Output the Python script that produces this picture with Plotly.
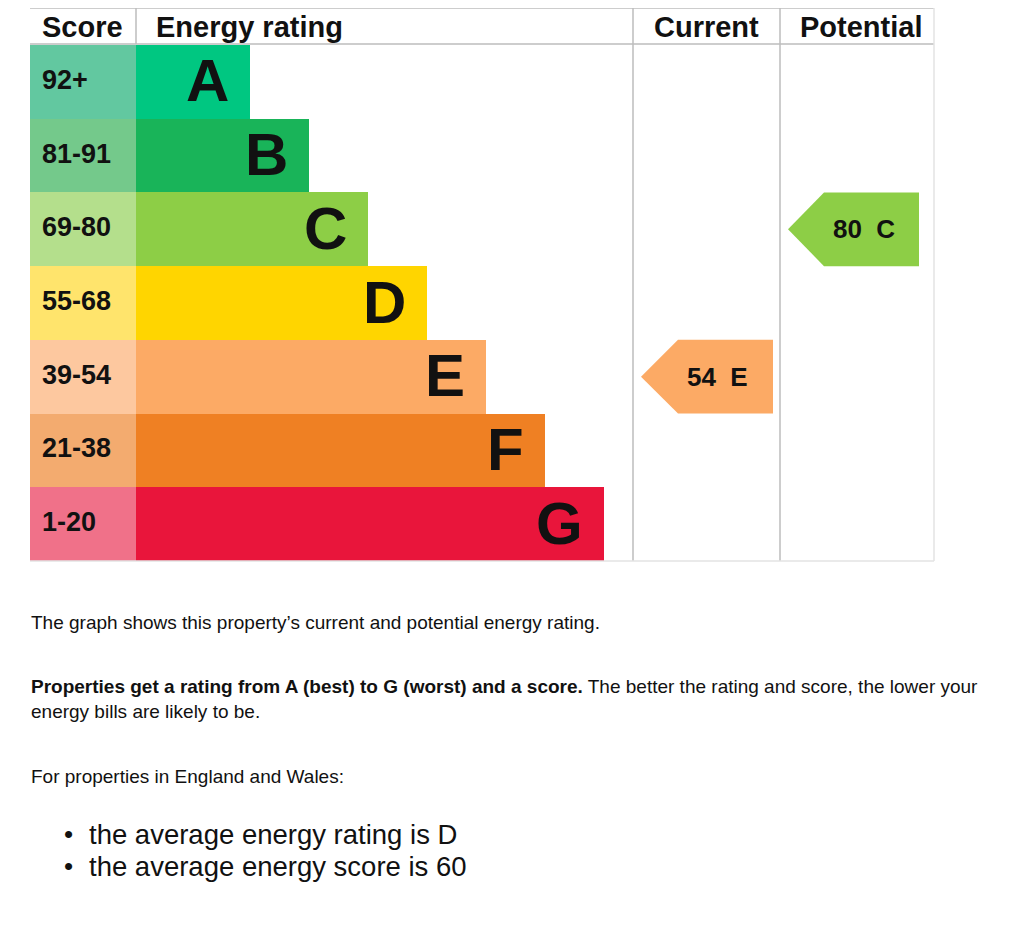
"""
Energy performance rating chart (EPC style) with current and potential score.
"""

import plotly.graph_objects as go

# data
bands = ["A", "B", "C", "D", "E", "F", "G"]
score_ranges = ["92+", "81-91", "69-80", "55-68", "39-54", "21-38", "1-20"]
band_min_score = [92, 81, 69, 55, 39, 21, 1]
bar_colors = ["#00c781", "#19b459", "#8dce46", "#ffd500", "#fcaa65", "#ef8023", "#e9153b"]
score_colors = ["#62c8a0", "#74c98b", "#b4df8c", "#ffe46c", "#fdc89f", "#f3ab6f", "#f07189"]
current_score = 54
potential_score = 80

# the page puts an 8px margin round the plot, so work in window pixels
OFF = 8
W, H = 1024 - 2 * OFF, 927 - 2 * OFF
FONT = "Liberation Sans, Arial, Helvetica, sans-serif"

# one bar step is 59px, zero of the bar axis at window x=132
STEP, ZERO = 59, 132


def px(v):
    return (v - ZERO) / STEP


def fx(v):
    return (v - OFF) / W


def fy(v):
    return 1 - (v - OFF) / H


def band_of(score):
    for i, lo in enumerate(band_min_score):
        if score >= lo:
            return i
    return len(bands) - 1


idx = list(range(len(bands)))
bar_len = [i + 2 for i in idx]  # each band one step longer than the one above

fig = go.Figure()

# score column cells
fig.add_trace(go.Bar(
    orientation="h", y=idx, x=[px(136) - px(30)] * len(idx), base=px(30),
    marker=dict(color=score_colors, line=dict(width=0)), width=1,
    hoverinfo="skip", showlegend=False,
))
# rating bars
fig.add_trace(go.Bar(
    orientation="h", y=idx, x=[L - px(136) for L in bar_len], base=px(136),
    marker=dict(color=bar_colors, line=dict(width=0)), width=1,
    hoverinfo="skip", showlegend=False,
))


def arrow(score, x_tip, x_body, x_right):
    b = band_of(score)
    xs = [x_tip, x_body, x_right, x_right, x_body, x_tip]
    ys = [b, b - 0.5, b - 0.5, b + 0.5, b + 0.5, b]
    fig.add_trace(go.Scatter(
        x=[px(v) for v in xs], y=ys, mode="lines", fill="toself",
        fillcolor=bar_colors[b], line=dict(width=0, color=bar_colors[b]),
        hoverinfo="skip", showlegend=False,
    ))
    fig.add_annotation(
        x=px((x_body + x_right) / 2 - 8), y=b, xref="x", yref="y",
        text=f"<b>{score}  {bands[b]}</b>", showarrow=False,
        font=dict(family=FONT, size=26, color="#111"),
    )


arrow(current_score, 641, 678, 773)
arrow(potential_score, 788, 824, 919)

# band letters and score ranges
for i in idx:
    fig.add_annotation(
        x=bar_len[i], y=i, xref="x", yref="y", xanchor="right",
        xshift=-19, yshift=1, text=f"<b>{bands[i]}</b>", showarrow=False,
        font=dict(family=FONT, size=60, color="#111"),
    )
    fig.add_annotation(
        x=px(40), y=i, xref="x", yref="y", xanchor="left", yshift=2,
        text=f"<b>{score_ranges[i]}</b>", showarrow=False,
        font=dict(family=FONT, size=27, color="#111"),
    )

# header
headers = [("Score", 40, "left"), ("Energy rating", 154, "left"),
           ("Current", 706, "center"), ("Potential", 861, "center")]
for txt, x, anc in headers:
    fig.add_annotation(
        x=fx(x), y=fy(27), xref="paper", yref="paper", xanchor=anc,
        yanchor="middle", text=f"<b>{txt}</b>", showarrow=False,
        font=dict(family=FONT, size=29, color="#111"),
    )

# grid lines
grey = "#bdbdbd"
light = "#e3e3e3"
lines = [
    (30, 8, 934, 8, grey), (30, 44, 934, 44, grey),
    (136, 8, 136, 44, grey), (633, 8, 633, 561, grey),
    (780, 8, 780, 561, grey), (934, 8, 934, 561, light),
    (30, 561, 934, 561, light),
]
for x0, y0, x1, y1, c in lines:
    fig.add_shape(type="line", xref="paper", yref="paper",
                  x0=fx(x0), y0=fy(y0), x1=fx(x1), y1=fy(y1),
                  line=dict(color=c, width=1.5))

# explanatory text
body = [
    (622, "The graph shows this property’s current and potential energy rating."),
    (699, "<b>Properties get a rating from A (best) to G (worst) and a score.</b>"
          " The better the rating and score, the lower your<br>energy bills are likely to be."),
    (776, "For properties in England and Wales:"),
]
for y, txt in body:
    fig.add_annotation(
        x=fx(29), y=fy(y), xref="paper", yref="paper", xanchor="left",
        yanchor="middle", align="left", text=txt, showarrow=False,
        font=dict(family=FONT, size=19, color="#111"),
    )

bullets = ["the average energy rating is D", "the average energy score is 60"]
for k, txt in enumerate(bullets):
    y = 834 + 32 * k
    fig.add_annotation(x=fx(62), y=fy(y), xref="paper", yref="paper",
                       xanchor="left", yanchor="middle", text="•", showarrow=False,
                       font=dict(family=FONT, size=26, color="#111"))
    fig.add_annotation(x=fx(87), y=fy(y), xref="paper", yref="paper",
                       xanchor="left", yanchor="middle", text=txt, showarrow=False,
                       font=dict(family=FONT, size=27.5, color="#111"))

fig.update_layout(
    width=W, height=H, margin=dict(l=0, r=0, t=0, b=0),
    paper_bgcolor="white", plot_bgcolor="white",
    barmode="overlay", bargap=0,
    xaxis=dict(range=[px(OFF), px(OFF + W)], domain=[0, 1], visible=False, fixedrange=True),
    yaxis=dict(range=[len(bands) - 0.5, -0.5], domain=[fy(561), fy(45)],
               visible=False, fixedrange=True),
)

fig.write_html("out.html")
